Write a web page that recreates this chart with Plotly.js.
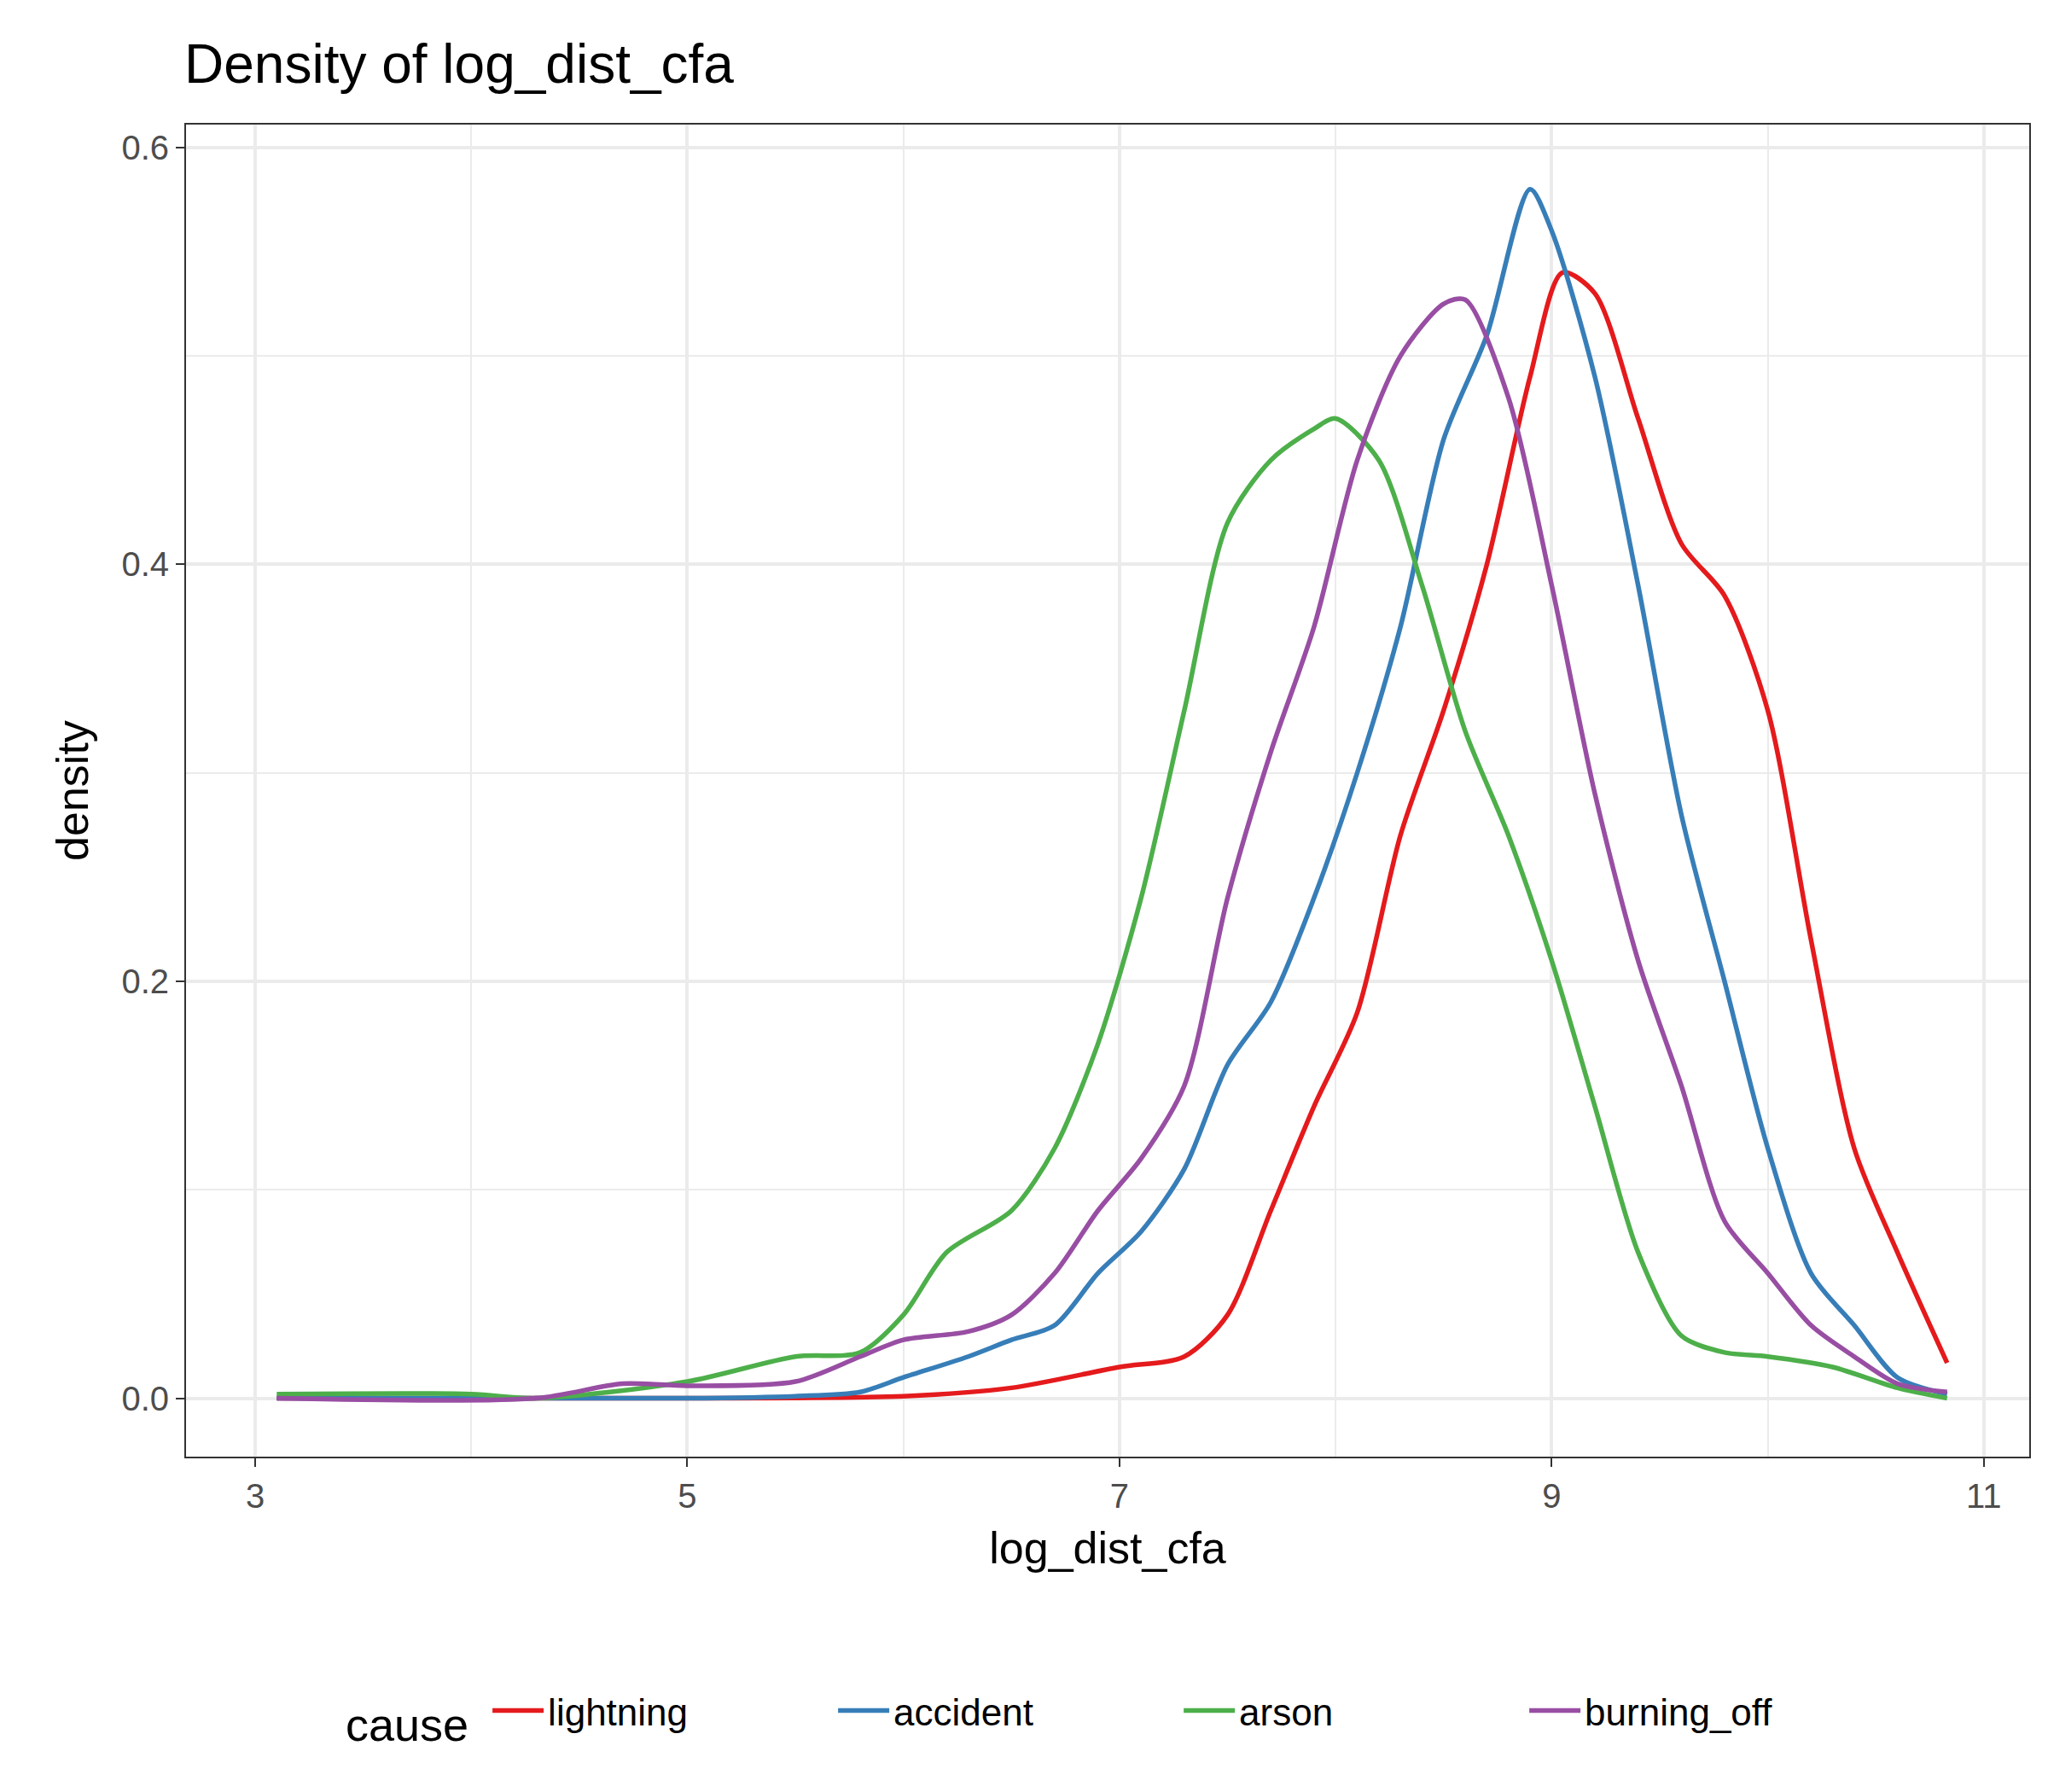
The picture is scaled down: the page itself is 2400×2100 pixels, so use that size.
<!DOCTYPE html>
<html><head><meta charset="utf-8">
<script src="https://cdn.plot.ly/plotly-3.0.1.min.js"></script>
<style>body{margin:0;background:#fff}</style>
</head><body><div id="plot" style="width:2400px;height:2100px"></div>
<script>
var causes = ["lightning", "accident", "arson", "burning_off"];
var colors = ["#E41A1C", "#377EB8", "#4DAF4A", "#984EA3"];

var xLightning = [3.1, 5.0, 6.0, 6.5, 7.0, 7.3, 7.5, 7.7, 7.9, 8.1, 8.3, 8.5, 8.7, 8.9, 9.05, 9.2, 9.4, 9.6, 9.8, 10.0, 10.2, 10.4, 10.6, 10.83];
var yLightning = [0, 0, 0.001, 0.005, 0.015, 0.02, 0.04, 0.09, 0.14, 0.185, 0.27, 0.33, 0.40, 0.49, 0.54, 0.53, 0.47, 0.41, 0.385, 0.33, 0.22, 0.12, 0.07, 0.017];

var xAccident = [3.1, 5.0, 5.5, 5.8, 6.0, 6.3, 6.5, 6.7, 6.9, 7.1, 7.3, 7.5, 7.7, 7.9, 8.1, 8.3, 8.5, 8.7, 8.9, 9.0, 9.2, 9.4, 9.6, 9.8, 10.0, 10.2, 10.4, 10.6, 10.83];
var yAccident = [0, 0, 0.001, 0.003, 0.01, 0.02, 0.028, 0.035, 0.06, 0.08, 0.11, 0.16, 0.19, 0.24, 0.30, 0.37, 0.46, 0.51, 0.58, 0.56, 0.49, 0.39, 0.28, 0.20, 0.12, 0.06, 0.035, 0.01, 0.002];

var xArson = [3.1, 4.0, 4.3, 5.0, 5.5, 5.8, 6.0, 6.2, 6.5, 6.7, 6.9, 7.1, 7.3, 7.5, 7.7, 7.9, 8.0, 8.2, 8.4, 8.6, 8.8, 9.0, 9.2, 9.4, 9.6, 9.8, 10.0, 10.3, 10.6, 10.83];
var yArson = [0.002, 0.002, 0, 0.008, 0.02, 0.022, 0.04, 0.07, 0.09, 0.12, 0.17, 0.24, 0.33, 0.42, 0.45, 0.465, 0.47, 0.45, 0.39, 0.32, 0.27, 0.21, 0.14, 0.07, 0.03, 0.022, 0.02, 0.015, 0.005, 0];

var xBurning = [3.1, 4.3, 4.7, 5.0, 5.5, 5.8, 6.0, 6.3, 6.5, 6.7, 6.9, 7.1, 7.3, 7.5, 7.7, 7.9, 8.1, 8.3, 8.5, 8.6, 8.8, 9.0, 9.2, 9.4, 9.6, 9.8, 10.0, 10.2, 10.4, 10.6, 10.83];
var yBurning = [0, 0, 0.007, 0.006, 0.008, 0.02, 0.028, 0.032, 0.04, 0.06, 0.09, 0.115, 0.15, 0.24, 0.31, 0.37, 0.45, 0.50, 0.525, 0.527, 0.48, 0.39, 0.29, 0.21, 0.15, 0.085, 0.06, 0.035, 0.02, 0.007, 0.003];

var xs = [xLightning, xAccident, xArson, xBurning];
var ys = [yLightning, yAccident, yArson, yBurning];

var plotData = [];
for (var i = 0; i < causes.length; i++) {
    plotData.push({
        type: "scatter",
        mode: "lines",
        name: causes[i],
        x: xs[i],
        y: ys[i],
        line: {color: colors[i], width: 5.5, shape: "spline", smoothing: 0.8}
    });
}

var gridC = "#EBEBEB";
var layout = {
    width: 2400,
    height: 2100,
    font: {family: "Liberation Sans, Arial, sans-serif", color: "#000"},
    paper_bgcolor: "#fff",
    plot_bgcolor: "#fff",
    margin: {l: 218, r: 22, t: 146, b: 393},
    title: {text: "Density of log_dist_cfa", font: {size: 64}, x: 0.09, xanchor: "left", y: 0.975, yanchor: "top"},
    xaxis: {
        range: [2.68, 11.21],
        tickvals: [3, 5, 7, 9, 11],
        ticks: "outside", ticklen: 10, tickwidth: 2, tickcolor: "#333",
        tickfont: {size: 40, color: "#4D4D4D"},
        showgrid: true, gridcolor: gridC, gridwidth: 3.5,
        minor: {tickvals: [4, 6, 8, 10], showgrid: true, gridcolor: gridC, gridwidth: 1.8},
        zeroline: false,
        showline: true, linecolor: "#333", linewidth: 2, mirror: true,
        title: {text: "log_dist_cfa", font: {size: 52}, standoff: 22}
    },
    yaxis: {
        range: [-0.028, 0.611],
        tickvals: [0, 0.2, 0.4, 0.6],
        ticktext: ["0.0", "0.2", "0.4", "0.6"],
        ticks: "outside", ticklen: 10, tickwidth: 2, tickcolor: "#333",
        tickfont: {size: 40, color: "#4D4D4D"},
        showgrid: true, gridcolor: gridC, gridwidth: 3.5,
        minor: {tickvals: [0.1, 0.3, 0.5], showgrid: true, gridcolor: gridC, gridwidth: 1.8},
        zeroline: false,
        showline: true, linecolor: "#333", linewidth: 2, mirror: true,
        title: {text: "density", font: {size: 52}, standoff: 22}
    },
    showlegend: true,
    legend: {
        orientation: "h", x: 0.5, xanchor: "center", y: -0.194, yanchor: "middle",
        font: {size: 44},
        title: {text: "cause ", font: {size: 54}, side: "left"},
        itemwidth: 60,
        entrywidth: 330
    }
};

Plotly.newPlot("plot", plotData, layout, {displayModeBar: false});
</script>
</body></html>
